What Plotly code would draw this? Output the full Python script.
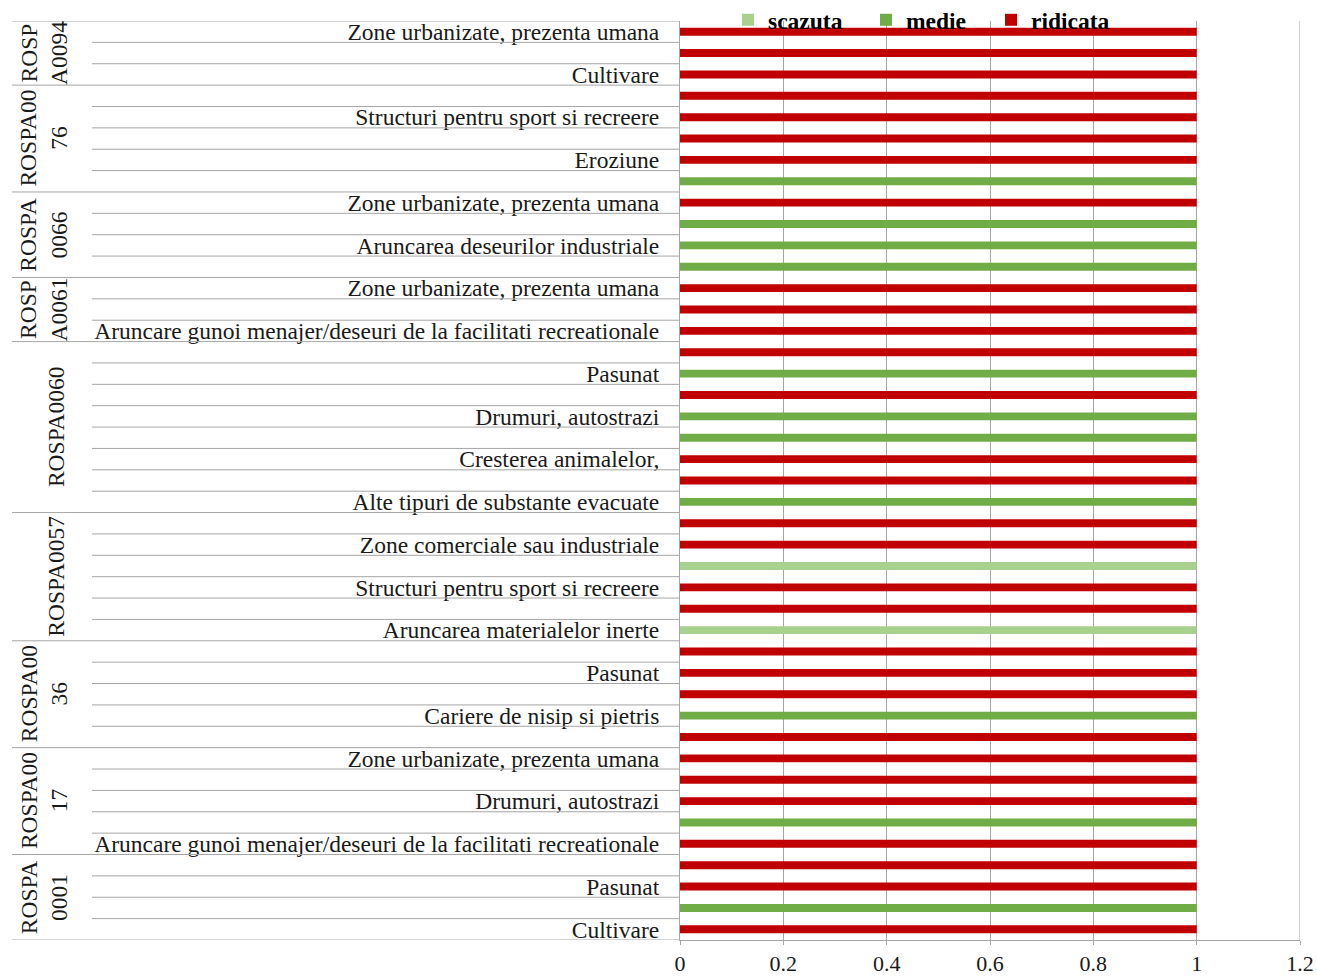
import plotly.graph_objects as go

# ---------------- data (top to bottom as in the picture) ----------------
groups = ["ROSP<br>A0094", "ROSPA00<br>76", "ROSPA<br>0066", "ROSP<br>A0061",
          "ROSPA0060", "ROSPA0057", "ROSPA00<br>36", "ROSPA00<br>17", "ROSPA<br>0001"]

threats = [
    ["Zone urbanizate, prezenta umana", "", "Cultivare"],
    ["", "Structuri pentru sport si recreere", "", "Eroziune", ""],
    ["Zone urbanizate, prezenta umana", "", "Aruncarea deseurilor industriale", ""],
    ["Zone urbanizate, prezenta umana", "", "Aruncare gunoi menajer/deseuri de la facilitati recreationale"],
    ["", "Pasunat", "", "Drumuri, autostrazi", "", "Cresterea animalelor,", "", "Alte tipuri de substante evacuate"],
    ["", "Zone comerciale sau industriale", "", "Structuri pentru sport si recreere", "", "Aruncarea materialelor inerte"],
    ["", "Pasunat", "", "Cariere de nisip si pietris", ""],
    ["Zone urbanizate, prezenta umana", "", "Drumuri, autostrazi", "", "Aruncare gunoi menajer/deseuri de la facilitati recreationale"],
    ["", "Pasunat", "", "Cultivare"],
]

levels = [
    ["ridicata", "ridicata", "ridicata"],
    ["ridicata", "ridicata", "ridicata", "ridicata", "medie"],
    ["ridicata", "medie", "medie", "medie"],
    ["ridicata", "ridicata", "ridicata"],
    ["ridicata", "medie", "ridicata", "medie", "medie", "ridicata", "ridicata", "medie"],
    ["ridicata", "ridicata", "scazuta", "ridicata", "ridicata", "scazuta"],
    ["ridicata", "ridicata", "ridicata", "medie", "ridicata"],
    ["ridicata", "ridicata", "ridicata", "medie", "ridicata"],
    ["ridicata", "ridicata", "medie", "ridicata"],
]

value = 1  # every threat has value 1, coloured by intensity
level_names = ["scazuta", "medie", "ridicata"]
level_colors = {"scazuta": "#A9D18E", "medie": "#70AD47", "ridicata": "#C00000"}

# ---------------- layout helpers ----------------
FONT = "Liberation Serif"
FS = 23.5
TXT = "#1a1a1a"
LINE = "#A6A6A6"
W, H = 1317, 976
ML, MR, MT, MB = 680, 17, 21, 36
PW = W - ML - MR


def px2paper(px):
    return (px - ML) / PW


flat_labels, flat_levels = [], []
for t, l in zip(threats, levels):
    flat_labels += t
    flat_levels += l
N = len(flat_labels)
ypos = [N - 0.5 - k for k in range(N)]

legend_ids = ["legend", "legend2", "legend3"]
legend_px = [728, 866, 991]

fig = go.Figure()
for lev, lid in zip(level_names, legend_ids):
    ys = [y for y, lv in zip(ypos, flat_levels) if lv == lev]
    fig.add_trace(go.Bar(
        x=[value] * len(ys), y=ys, orientation="h", name=lev, width=0.37,
        marker=dict(color=level_colors[lev], line=dict(width=0)),
        hoverinfo="skip", legend=lid,
    ))

tickvals = [y for y, lab in zip(ypos, flat_labels) if lab]
ticktext = [lab for lab in flat_labels if lab]

shapes = []
annotations = []
x_grp = px2paper(12)
x_row = px2paper(92)
top = N
for g, t in zip(groups, threats):
    n = len(t)
    shapes.append(dict(type="line", xref="paper", yref="y", x0=x_grp, x1=0,
                       y0=top, y1=top, line=dict(color=LINE, width=1)))
    for j in range(1, n):
        yy = top - j
        shapes.append(dict(type="line", xref="paper", yref="y", x0=x_row, x1=0,
                           y0=yy, y1=yy, line=dict(color=LINE, width=1)))
    cx = 44 if "<br>" in g else 56
    annotations.append(dict(text=g, xref="paper", yref="y", x=px2paper(cx), y=top - n / 2,
                            textangle=-90, showarrow=False, xanchor="center", yanchor="middle",
                            font=dict(family=FONT, size=FS, color=TXT)))
    top -= n
shapes.append(dict(type="line", xref="paper", yref="y", x0=x_grp, x1=0,
                   y0=0, y1=0, line=dict(color=LINE, width=1)))
shapes.append(dict(type="line", xref="x", yref="paper", x0=1.2, x1=1.2,
                   y0=0, y1=1, line=dict(color=LINE, width=1)))

legend_common = dict(orientation="h", xref="container", yref="container", xanchor="left",
                     y=1 - 20 / H, yanchor="middle", bgcolor="rgba(0,0,0,0)",
                     font=dict(family=FONT, size=FS, color="#000", weight="bold"))
legends = {lid: dict(legend_common, x=px / W) for lid, px in zip(legend_ids, legend_px)}

fig.update_layout(
    width=W, height=H,
    margin=dict(l=ML, r=MR, t=MT, b=MB, autoexpand=False),
    paper_bgcolor="white", plot_bgcolor="white",
    barmode="overlay",
    font=dict(family=FONT, size=FS, color=TXT),
    showlegend=True,
    xaxis=dict(range=[0, 1.2], tick0=0, dtick=0.2, showgrid=True, gridcolor=LINE, gridwidth=1,
               zeroline=False, showline=True, linecolor=LINE, linewidth=1,
               ticks="outside", ticklen=4, tickcolor=LINE, automargin=False,
               tickfont=dict(family=FONT, size=22, color=TXT)),
    yaxis=dict(range=[0, N], tickmode="array", tickvals=tickvals, ticktext=ticktext,
               showgrid=False, zeroline=False, showline=True, linecolor=LINE, linewidth=1,
               ticks="", ticklabelstandoff=15, automargin=False,
               tickfont=dict(family=FONT, size=FS, color=TXT)),
    shapes=shapes, annotations=annotations,
    **legends,
)

fig.write_html("out.html", config={"displayModeBar": False},
               post_script="document.body.style.margin='0';document.body.style.overflow='hidden';")
